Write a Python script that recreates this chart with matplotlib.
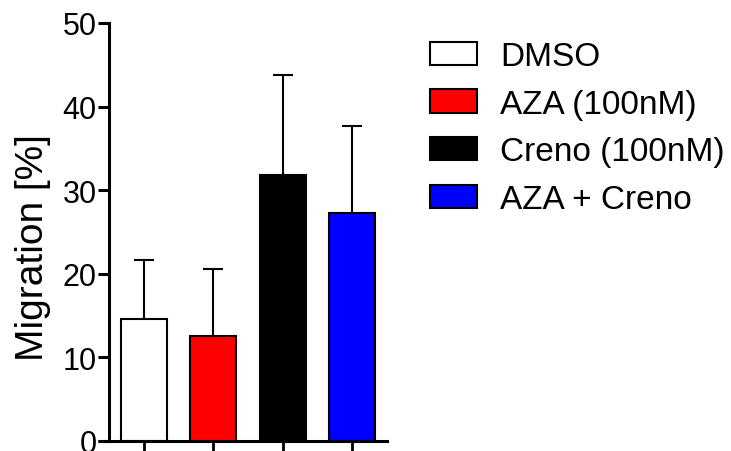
import numpy as np
import matplotlib
matplotlib.use('Agg')
import matplotlib.pyplot as plt

plt.rcParams['font.family'] = ['Liberation Sans', 'DejaVu Sans']

# values
groups = ['DMSO', 'AZA (100nM)', 'Creno (100nM)', 'AZA + Creno']
means = [14.6, 12.55, 31.8, 27.3]
errors = [7.05, 8.05, 12.0, 10.4]
bar_colors = ['white', '#ff0000', 'black', '#0000ff']
yticks = [0, 10, 20, 30, 40, 50]

fig = plt.figure(figsize=(7.31, 4.52), dpi=100)
ax = fig.add_axes([109 / 731, 1 - 442 / 452, (387 - 109) / 731, (442 - 24) / 452])

x = np.arange(len(groups))
# error bars drawn under the bars so only the upper half shows
ax.errorbar(x, means, yerr=errors, fmt='none', ecolor='black',
            elinewidth=1.5, capsize=7, capthick=1.5, zorder=1)
bars = ax.bar(x, means, width=0.66, color=bar_colors, edgecolor='black',
              linewidth=1.5, zorder=2)

ax.set_xlim(-0.5, len(groups) - 0.5)
ax.set_ylim(0, 50)
ax.set_yticks(yticks)
ax.set_xticks(x)
ax.set_xticklabels([''] * len(groups))

for side in ['top', 'right']:
    ax.spines[side].set_visible(False)
for side in ['left', 'bottom']:
    ax.spines[side].set_linewidth(2.2)
ax.tick_params(axis='y', length=8, width=2.2, pad=1, labelsize=22, direction='out')
ax.tick_params(axis='x', length=8, width=2, direction='out')
# bottom axis extends left past the y axis, like the original
ax.plot([-0.5 - 11 / 69.7, -0.5], [0, 0], color='black', lw=2.2,
        clip_on=False, solid_capstyle='butt')

ax.set_ylabel('Migration [%]', fontsize=28)
ax.yaxis.set_label_coords(-0.207, 0.466)

handles = [plt.Rectangle((0, 0), 1, 1, facecolor=c, edgecolor='black', linewidth=1.5)
           for c in bar_colors]
fig.legend(handles, groups, loc='upper left', bbox_to_anchor=(430 / 731, 1 - 42 / 452),
           frameon=False, fontsize=24, handlelength=1.4, handleheight=0.7,
           handletextpad=0.7, labelspacing=0.5, borderaxespad=0, borderpad=0)

fig.savefig('out.png', dpi=100)
